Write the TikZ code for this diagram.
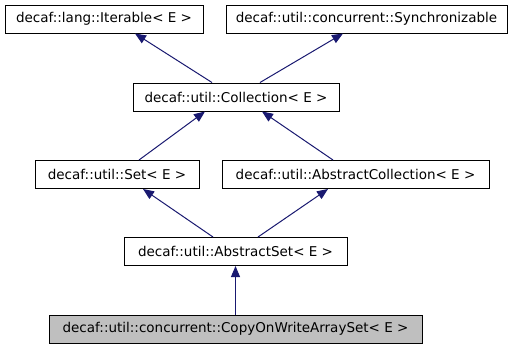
\documentclass[tikz,border=0pt]{standalone}
\usepackage{fontspec}
\setmainfont{DejaVu Sans}
\usepackage{tikz}
\usetikzlibrary{arrows.meta, positioning}
\definecolor{edgeblue}{RGB}{25,25,112}
\definecolor{leafgray}{RGB}{191,191,191}

\begin{document}
\begin{tikzpicture}[
    x=1pt, y=-1pt,
    font=\fontsize{13.5}{16}\selectfont,
    cls/.style={
        rectangle,
        draw=black,
        fill=white,
        line width=1pt,
        inner sep=0pt,
        minimum height=28pt,
        align=center
    },
    inherit/.style={-{Triangle[length=11pt, width=9pt]}, line width=1pt, color=edgeblue}
]
\useasboundingbox (0,0) rectangle (517,349);

% base classes
\node[cls, minimum width=198pt] (iterable) at (104,19) {decaf::lang::Iterable< E >};
\node[cls, minimum width=281pt] (sync) at (366.5,19) {decaf::util::concurrent::Synchronizable};
\node[cls, minimum width=206pt] (collection) at (236,97) {decaf::util::Collection< E >};
\node[cls, minimum width=164pt] (set) at (117,174.5) {decaf::util::Set< E >};
\node[cls, minimum width=267pt] (abscoll) at (355.5,174.5) {decaf::util::AbstractCollection< E >};
\node[cls, minimum width=223pt] (absset) at (235.5,251.5) {decaf::util::AbstractSet< E >};
% the documented class
\node[cls, fill=leafgray, minimum width=373pt] (cowset) at (235.5,329) {decaf::util::concurrent::CopyOnWriteArraySet< E >};

\draw[inherit] ([xshift=-24pt]collection.north) -- ([xshift=31pt]iterable.south);
\draw[inherit] ([xshift=24pt]collection.north) -- ([xshift=-23.5pt]sync.south);
\draw[inherit] ([xshift=22pt]set.north) -- ([xshift=-31pt]collection.south);
\draw[inherit] ([xshift=-22.5pt]abscoll.north) -- ([xshift=26pt]collection.south);
\draw[inherit] ([xshift=-22.5pt]absset.north) -- ([xshift=26pt]set.south);
\draw[inherit] ([xshift=22.5pt]absset.north) -- ([xshift=-27.5pt]abscoll.south);
\draw[inherit] (cowset) -- (absset);

\end{tikzpicture}
\end{document}
